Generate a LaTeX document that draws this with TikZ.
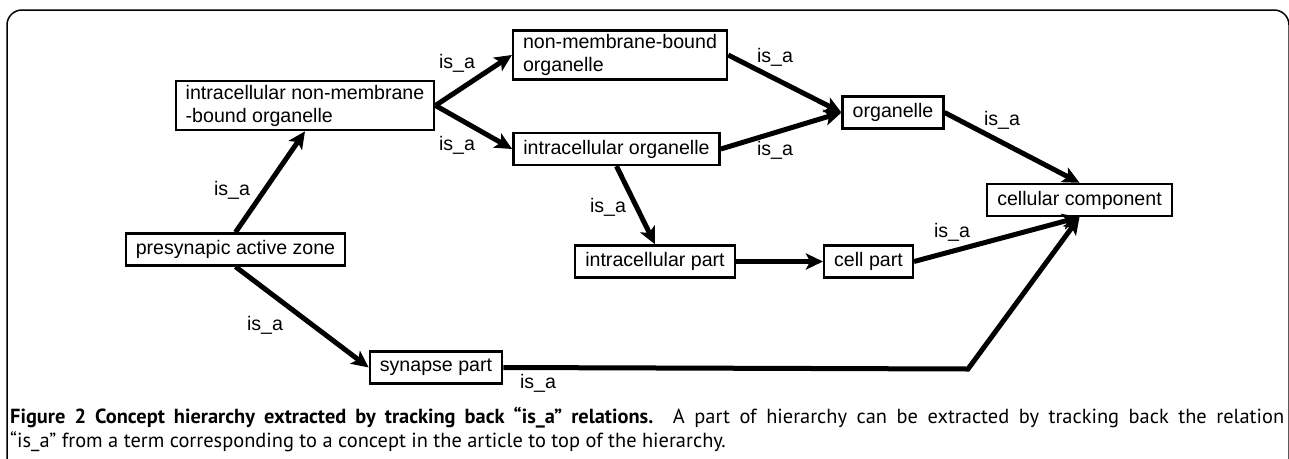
\documentclass[tikz,border=0pt]{standalone}
\usepackage{fontspec}
\setmainfont{Liberation Sans}
\newfontfamily\capfont{PT Sans}
\usetikzlibrary{arrows.meta}
\tikzset{
	term/.style={draw, line width=2.4pt, inner xsep=10pt, inner ysep=4pt, minimum height=32pt, font=\fontsize{19.6}{23}\selectfont, align=left},
	isa/.style={line width=5pt, -{Stealth[length=17pt, width=16pt, inset=4pt]}},
	lbl/.style={font=\fontsize{19.6}{22}\selectfont, inner sep=0pt},
}
\begin{document}
\begin{tikzpicture}[x=1pt, y=-1pt]
		\useasboundingbox (0,0) rectangle (1289,458);
		\draw[line width=1.5pt, rounded corners=15pt] (7,470) -- (7,10) -- (1289,10) -- (1289,470);

		\node[term] (inb) at (305,105.5) {intracellular non-membrane\\-bound organelle};
		\node[term] (nmb) at (620,55) {non-membrane-bound\\organelle};
		\node[term] (io) at (616.5,149) {intracellular organelle};
		\node[term] (org) at (893,112.5) {organelle};
		\node[term] (cc) at (1079.5,200) {cellular component};
		\node[term] (paz) at (235.5,249.5) {presynapic active zone};
		\node[term] (ip) at (655,261.5) {intracellular part};
		\node[term] (cp) at (868.5,261.5) {cell part};
		\node[term] (sp) at (436,367.5) {synapse part};
		\coordinate (bend) at (968,369);

		\draw[isa] (paz.north) -- (inb.south);
		\draw[isa] (inb.east) -- (nmb.west);
		\draw[isa] (inb.east) -- (io.west);
		\draw[isa] (nmb.east) -- (org.west);
		\draw[isa] (io.east) -- (org.west);
		\draw[isa] (org.east) -- (cc.north);
		\draw[isa] (io.south) -- (ip.north);
		\draw[isa] (ip.east) -- (cp.west);
		\draw[isa] (cp.east) -- (cc.south);
		\draw[isa] (paz.south) -- (sp.west);
		\draw[isa] (sp.east) -- (bend) -- (cc.south);

		\node[lbl] (l1) at (232,190) {is\_a};
		\node[lbl] (l2) at (457,63) {is\_a};
		\node[lbl] (l3) at (457,145) {is\_a};
		\node[lbl] (l4) at (775,57) {is\_a};
		\node[lbl] (l5) at (775,150) {is\_a};
		\node[lbl] (l6) at (1002,120) {is\_a};
		\node[lbl] (l7) at (608,207) {is\_a};
		\node[lbl] (l8) at (952,232) {is\_a};
		\node[lbl] (l9) at (265,325) {is\_a};
		\node[lbl] (l10) at (538,383) {is\_a};

		\node[anchor=north west, inner sep=0pt, text width=1274pt, align=justify, font=\capfont\fontsize{20.4}{23.5}\selectfont] (cap) at (10,407) {
			\textbf{Figure 2 Concept hierarchy extracted by tracking back “is\_a” relations.} A part of hierarchy can be extracted by tracking back the relation\linebreak
			“is\_a” from a term corresponding to a concept in the article to top of the hierarchy.
		};
	\end{tikzpicture}
\end{document}
